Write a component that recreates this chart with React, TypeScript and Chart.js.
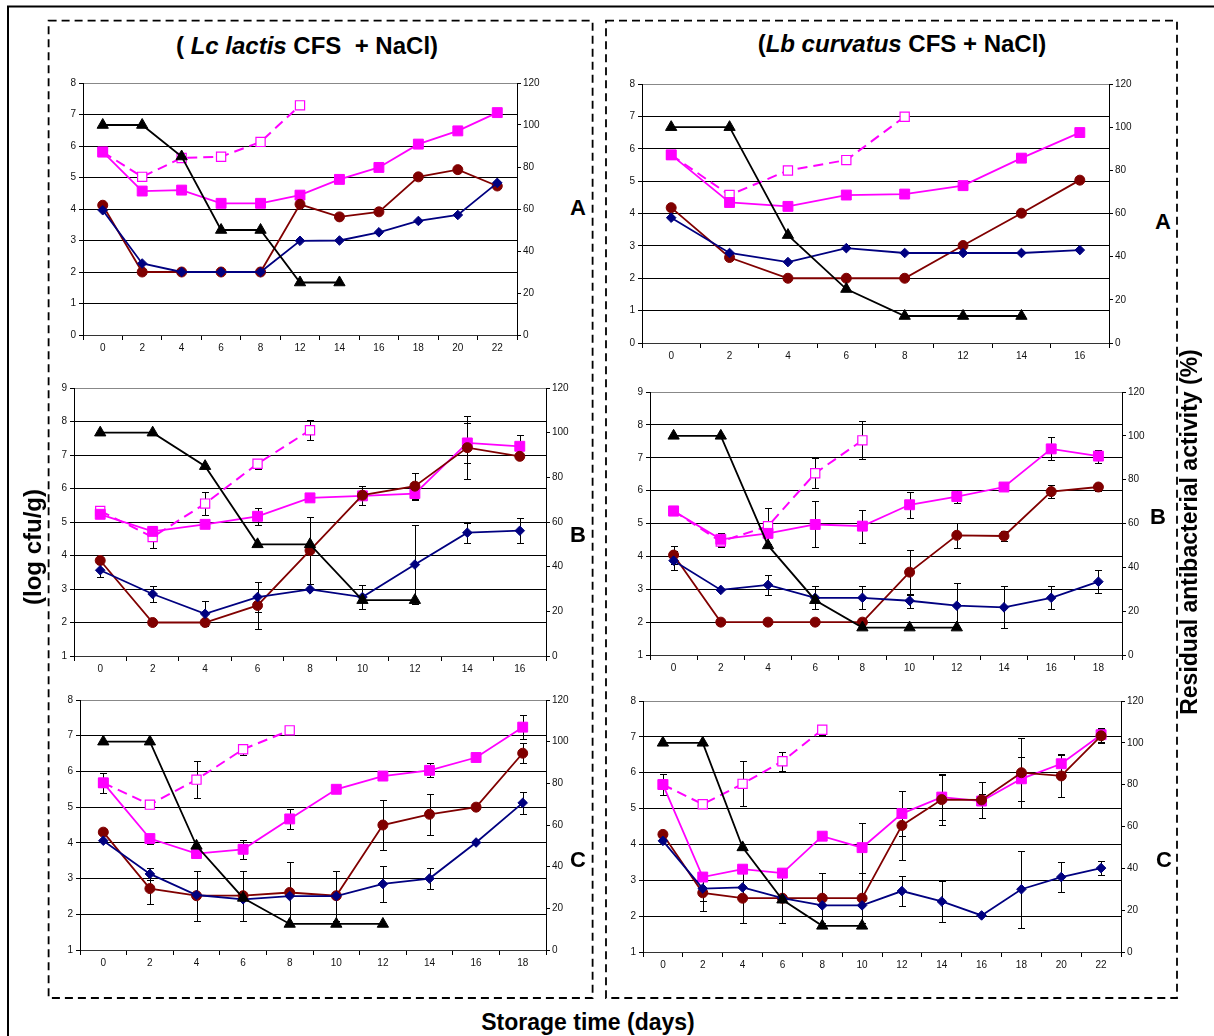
import React, { useEffect, useRef } from 'react';
import { Chart, registerables } from 'chart.js';
Chart.register(...registerables);

const FONT = "'Liberation Sans', Arial, Helvetica, sans-serif";

// ---------- DATA ----------
// Panel A, Lc lactis
const aL_days = ['0', '2', '4', '6', '8', '12', '14', '16', '18', '20', '22'];
const aL_blue = [3.96, 2.27, 2.0, 2.0, 2.0, 2.99, 3.0, 3.26, 3.62, 3.81, 4.83];
const aL_red = [4.12, 2.0, 2.0, 2.0, 2.0, 4.15, 3.75, 3.91, 5.02, 5.25, 4.73];
const aL_pink = [5.81, 4.57, 4.6, 4.18, 4.18, 4.44, 4.94, 5.32, 6.06, 6.48, 7.06];
const aL_open = [5.81, 5.02, 5.62, 5.66, 6.13, 7.29, null, null, null, null, null];
const aL_activity = [100, 100, 85, 50, 50, 25, 25, null, null, null, null];

// Panel A, Lb curvatus
const aR_days = ['0', '2', '4', '6', '8', '12', '14', '16'];
const aR_blue = [3.87, 2.78, 2.5, 2.93, 2.78, 2.78, 2.78, 2.87];
const aR_red = [4.18, 2.64, 2.0, 2.0, 2.0, 3.01, 4.01, 5.03];
const aR_pink = [5.81, 4.34, 4.22, 4.57, 4.6, 4.86, 5.71, 6.5];
const aR_open = [5.81, 4.57, 5.33, 5.65, 6.99, null, null, null];
const aR_activity = [100, 100, 50, 25, 12.5, 12.5, 12.5, null];

// Panel B, Lc lactis
const bL_days = ['0', '2', '4', '6', '8', '10', '12', '14', '16'];
const bL_blue = [3.56, 2.85, 2.26, 2.76, 2.99, 2.76, 3.73, 4.68, 4.74];
const bL_blueErr = [0.2, 0.23, 0.37, 0.45, 0, 0.35, 1.17, 0.3, 0.37];
const bL_red = [3.85, 2.0, 2.0, 2.51, 4.15, 5.8, 6.07, 7.22, 6.96];
const bL_redErr = [0, 0, 0, 0.7, 1.0, 0.28, 0.4, 0.95, 0];
const bL_pink = [5.23, 4.72, 4.93, 5.17, 5.72, 5.78, 5.85, 7.36, 7.26];
const bL_pinkErr = [0, 0.15, 0.12, 0.25, 0.1, 0.1, 0.15, 0.6, 0.33];
const bL_open = [5.33, 4.55, 5.55, 6.74, 7.74, null, null, null, null];
const bL_openErr = [0, 0.32, 0.35, 0.15, 0.3, 0, 0, 0, 0];
const bL_activity = [100, 100, 85, 50, 50, 25, 25, null, null];

// Panel B, Lb curvatus
const bR_days = ['0', '2', '4', '6', '8', '10', '12', '14', '16', '18'];
const bR_blue = [3.87, 2.98, 3.13, 2.74, 2.74, 2.65, 2.5, 2.45, 2.74, 3.23];
const bR_blueErr = [0.28, 0, 0.3, 0.35, 0.35, 0.22, 0.7, 0.64, 0.35, 0.35];
const bR_red = [4.04, 2.0, 2.0, 2.0, 2.0, 3.52, 4.64, 4.62, 5.97, 6.11];
const bR_redErr = [0.28, 0, 0, 0, 0, 0.68, 0.38, 0.15, 0.2, 0.12];
const bR_pink = [5.38, 4.52, 4.7, 4.97, 4.92, 5.57, 5.82, 6.11, 7.27, 7.05];
const bR_pinkErr = [0, 0.2, 0, 0.7, 0.5, 0.4, 0.2, 0.1, 0.35, 0.2];
const bR_open = [5.38, 4.45, 4.92, 6.53, 7.53, null, null, null, null, null];
const bR_openErr = [0, 0.15, 0.55, 0.45, 0.58, 0, 0, 0, 0, 0];
const bR_activity = [100, 100, 50, 25, 12.5, 12.5, 12.5, null, null, null];

// Panel C, Lc lactis
const cL_days = ['0', '2', '4', '6', '8', '10', '12', '14', '16', '18'];
const cL_blue = [4.06, 3.13, 2.54, 2.42, 2.51, 2.51, 2.85, 3.0, 4.01, 5.12];
const cL_blueErr = [0, 0.17, 0, 0, 0, 0, 0.5, 0.29, 0, 0.3];
const cL_red = [4.3, 2.72, 2.52, 2.52, 2.61, 2.52, 4.5, 4.8, 5.0, 6.51];
const cL_redErr = [0, 0.44, 0.7, 0.7, 0.85, 0.7, 0.71, 0.57, 0, 0.28];
const cL_pink = [5.68, 4.12, 3.7, 3.82, 4.67, 5.5, 5.87, 6.03, 6.39, 7.24];
const cL_pinkErr = [0.29, 0.14, 0, 0.26, 0.28, 0, 0, 0.2, 0, 0.33];
const cL_open = [5.68, 5.07, 5.77, 6.62, 7.15, null, null, null, null, null];
const cL_openErr = [0, 0, 0.51, 0.16, 0.08, 0, 0, 0, 0, 0];
const cL_activity = [100, 100, 50, 25, 12.5, 12.5, 12.5, null, null, null];

// Panel C, Lb curvatus
const cR_days = ['0', '2', '4', '6', '8', '10', '12', '14', '16', '18', '20', '22'];
const cR_blue = [4.1, 2.77, 2.8, 2.5, 2.3, 2.3, 2.7, 2.41, 2.02, 2.75, 3.09, 3.34];
const cR_blueErr = [0, 0.35, 0, 0, 0, 0, 0.43, 0.57, 0, 1.07, 0.42, 0.2];
const cR_red = [4.28, 2.65, 2.5, 2.5, 2.5, 2.5, 4.53, 5.25, 5.24, 6.0, 5.91, 7.03];
const cR_redErr = [0, 0.5, 0.7, 0.7, 0.7, 0.7, 0.97, 0.7, 0.5, 0.98, 0.6, 0.2];
const cR_pink = [5.67, 3.09, 3.31, 3.2, 4.23, 3.91, 4.86, 5.32, 5.21, 5.83, 6.25, 7.06];
const cR_pinkErr = [0.3, 0, 0, 0, 0, 0.7, 0.62, 0.65, 0.2, 0.62, 0.25, 0.2];
const cR_open = [5.67, 5.12, 5.69, 6.32, 7.2, null, null, null, null, null, null, null];
const cR_openErr = [0, 0.07, 0.63, 0.26, 0.14, 0, 0, 0, 0, 0, 0, 0];
const cR_activity = [100, 100, 50, 25, 12.5, 12.5, null, null, null, null, null, null];

const activityTicks = [0, 20, 40, 60, 80, 100, 120];

// ---------- STYLE ----------
const NAVY = '#000080';
const MAROON = '#800000';
const MAGENTA = '#FF00FF';

type Series = (number | null)[];
type PanelDef = {
  labels: string[];
  yMin: number;
  yMax: number;
  blue: Series; red: Series; pink: Series; open: Series; activity: Series;
  blueErr?: number[]; redErr?: number[]; pinkErr?: number[]; openErr?: number[];
  box: { l: number; t: number; r: number; b: number };
};

const panels: PanelDef[] = [
  { labels: aL_days, yMin: 0, yMax: 8, blue: aL_blue, red: aL_red, pink: aL_pink, open: aL_open, activity: aL_activity,
    box: { l: 83, t: 83, r: 517, b: 335 } },
  { labels: aR_days, yMin: 0, yMax: 8, blue: aR_blue, red: aR_red, pink: aR_pink, open: aR_open, activity: aR_activity,
    box: { l: 642, t: 84, r: 1109, b: 343 } },
  { labels: bL_days, yMin: 1, yMax: 9, blue: bL_blue, red: bL_red, pink: bL_pink, open: bL_open, activity: bL_activity,
    blueErr: bL_blueErr, redErr: bL_redErr, pinkErr: bL_pinkErr, openErr: bL_openErr,
    box: { l: 74, t: 388, r: 546, b: 656 } },
  { labels: bR_days, yMin: 1, yMax: 9, blue: bR_blue, red: bR_red, pink: bR_pink, open: bR_open, activity: bR_activity,
    blueErr: bR_blueErr, redErr: bR_redErr, pinkErr: bR_pinkErr, openErr: bR_openErr,
    box: { l: 650, t: 392, r: 1122, b: 655 } },
  { labels: cL_days, yMin: 1, yMax: 8, blue: cL_blue, red: cL_red, pink: cL_pink, open: cL_open, activity: cL_activity,
    blueErr: cL_blueErr, redErr: cL_redErr, pinkErr: cL_pinkErr, openErr: cL_openErr,
    box: { l: 80, t: 700, r: 546, b: 950 } },
  { labels: cR_days, yMin: 1, yMax: 8, blue: cR_blue, red: cR_red, pink: cR_pink, open: cR_open, activity: cR_activity,
    blueErr: cR_blueErr, redErr: cR_redErr, pinkErr: cR_pinkErr, openErr: cR_openErr,
    box: { l: 643, t: 701, r: 1121, b: 952 } },
];

const errorBarPlugin = {
  id: 'errorBars',
  beforeDatasetsDraw(chart: any) {
    const ctx = chart.ctx;
    ctx.save();
    ctx.strokeStyle = '#000';
    ctx.lineWidth = 1;
    chart.data.datasets.forEach((ds: any, i: number) => {
      const errs = ds.errors as number[] | undefined;
      if (!errs) return;
      const meta = chart.getDatasetMeta(i);
      const ys = chart.scales[meta.yAxisID];
      meta.data.forEach((pt: any, j: number) => {
        const v = ds.data[j];
        const e = errs[j];
        if (v == null || !e) return;
        const x = Math.round(pt.x) + 0.5;
        const y1 = Math.round(ys.getPixelForValue(v + e)) + 0.5;
        const y2 = Math.round(ys.getPixelForValue(v - e)) + 0.5;
        ctx.beginPath();
        ctx.moveTo(x, y1); ctx.lineTo(x, y2);
        ctx.moveTo(x - 3.5, y1); ctx.lineTo(x + 3.5, y1);
        ctx.moveTo(x - 3.5, y2); ctx.lineTo(x + 3.5, y2);
        ctx.stroke();
      });
    });
    ctx.restore();
  },
};

const PAD_L = 40, PAD_R = 40, PAD_T = 12, PAD_B = 28;

function Panel({ def }: { def: PanelDef }) {
  const ref = useRef<HTMLCanvasElement>(null);
  const w = def.box.r - def.box.l + PAD_L + PAD_R;
  const h = def.box.b - def.box.t + PAD_T + PAD_B;
  useEffect(() => {
    const tickFont = { family: FONT, size: 10 };
    const line = (label: string, data: Series, color: string, style: string, radius: number, extra: any = {}) => ({
      label, data, borderColor: color, backgroundColor: color,
      pointStyle: style, pointRadius: radius, pointHoverRadius: radius,
      pointBackgroundColor: color, pointBorderColor: color, pointBorderWidth: 1,
      borderWidth: 1.8, tension: 0, spanGaps: false, yAxisID: 'y', ...extra,
    });
    const chart = new Chart(ref.current as HTMLCanvasElement, {
      type: 'line',
      data: {
        labels: def.labels,
        datasets: [
          line('Residual antibacterial activity', def.activity, '#000', 'triangle', 6.5, { yAxisID: 'y2' }),
          line('Blue', def.blue, NAVY, 'rectRot', 4.8, { errors: def.blueErr }),
          line('Red', def.red, MAROON, 'circle', 5, { errors: def.redErr }),
          line('Pink', def.pink, MAGENTA, 'rect', 7, { errors: def.pinkErr }),
          line('Pink open', def.open, MAGENTA, 'rect', 6.5, {
            errors: def.openErr, borderDash: [10, 6], borderWidth: 2, pointBackgroundColor: '#fff', pointBorderWidth: 1.2,
          }),
        ] as any,
      },
      options: {
        responsive: false,
        animation: false,
        devicePixelRatio: 1,
        layout: { padding: { top: PAD_T, left: 0, right: 0, bottom: 0 } },
        plugins: { legend: { display: false }, tooltip: { enabled: false }, title: { display: false } },
        events: [],
        scales: {
          x: {
            type: 'category',
            offset: true,
            grid: { offset: true, drawOnChartArea: false, drawTicks: true, tickLength: 5, color: '#000', lineWidth: 1 },
            border: { display: true, color: '#333', width: 1 },
            ticks: { color: '#111', font: tickFont, padding: 2, maxRotation: 0, autoSkip: false },
            afterFit: (s: any) => { s.height = PAD_B; },
          },
          y: {
            position: 'left',
            min: def.yMin,
            max: def.yMax,
            ticks: { stepSize: 1, color: '#111', font: tickFont, padding: 3 },
            grid: {
              color: (c: any) => (c.tick && c.tick.value === def.yMax ? '#888' : '#000'),
              tickColor: '#000', tickLength: 4, drawTicks: true, lineWidth: 1,
            },
            border: { display: true, color: '#000', width: 1 },
            afterFit: (s: any) => { s.width = PAD_L; },
          },
          y2: {
            position: 'right',
            min: activityTicks[0],
            max: activityTicks[activityTicks.length - 1],
            afterBuildTicks: (s: any) => { s.ticks = activityTicks.map((v) => ({ value: v })); },
            ticks: { color: '#111', font: tickFont, padding: 2 },
            grid: { drawOnChartArea: false, drawTicks: true, tickLength: 4, color: '#000', tickColor: '#000' },
            border: { display: true, color: '#000', width: 1 },
            afterFit: (s: any) => { s.width = PAD_R; },
          },
        },
      } as any,
      plugins: [errorBarPlugin],
    });
    return () => chart.destroy();
  }, []);
  return (
    <canvas
      ref={ref}
      width={w}
      height={h}
      style={{ position: 'absolute', left: def.box.l - PAD_L, top: def.box.t - PAD_T, width: w, height: h }}
    />
  );
}

const boldText: React.CSSProperties = {
  position: 'absolute', fontFamily: FONT, fontWeight: 'bold', color: '#000', whiteSpace: 'pre', lineHeight: 1,
};

function Centered({ x, y, size, rotate, children }: { x: number; y: number; size: number; rotate?: boolean; children: any }) {
  return (
    <div
      style={{
        ...boldText, left: x, top: y, fontSize: size,
        transform: `translate(-50%, -50%)${rotate ? ' rotate(-90deg)' : ''}`,
      }}
    >
      {children}
    </div>
  );
}

export default function App() {
  return (
    <div style={{ position: 'absolute', left: 0, top: 0, width: 1214, height: 1036, overflow: 'hidden', background: '#fff' }}>
      <svg width={1214} height={1036} style={{ position: 'absolute', left: 0, top: 0 }}>
        <rect x={8} y={6.5} width={1300} height={1100} fill="none" stroke="#000" strokeWidth={2} />
        <rect x={48.6} y={20.7} width={544} height={977.3} fill="none" stroke="#000" strokeWidth={1.8} strokeDasharray="8 5" />
        <rect x={606} y={20.7} width={571} height={977.3} fill="none" stroke="#000" strokeWidth={1.8} strokeDasharray="8 5" />
      </svg>
      {panels.map((p, i) => <Panel key={i} def={p} />)}
      <Centered x={307} y={46} size={24}>( <i>Lc lactis</i> CFS  + NaCl)</Centered>
      <Centered x={902} y={44} size={24}>(<i>Lb curvatus</i> CFS + NaCl)</Centered>
      <Centered x={578} y={208} size={22}>A</Centered>
      <Centered x={1163} y={222} size={22}>A</Centered>
      <Centered x={578} y={535} size={22}>B</Centered>
      <Centered x={1158} y={517} size={22}>B</Centered>
      <Centered x={578} y={860} size={22}>C</Centered>
      <Centered x={1164} y={860} size={22}>C</Centered>
      <Centered x={33} y={547} size={24} rotate>(log cfu/g)</Centered>
      <Centered x={1189} y={532} size={23} rotate>Residual antibacterial activity (%)</Centered>
      <Centered x={588} y={1022} size={23}>Storage time (days)</Centered>
    </div>
  );
}
